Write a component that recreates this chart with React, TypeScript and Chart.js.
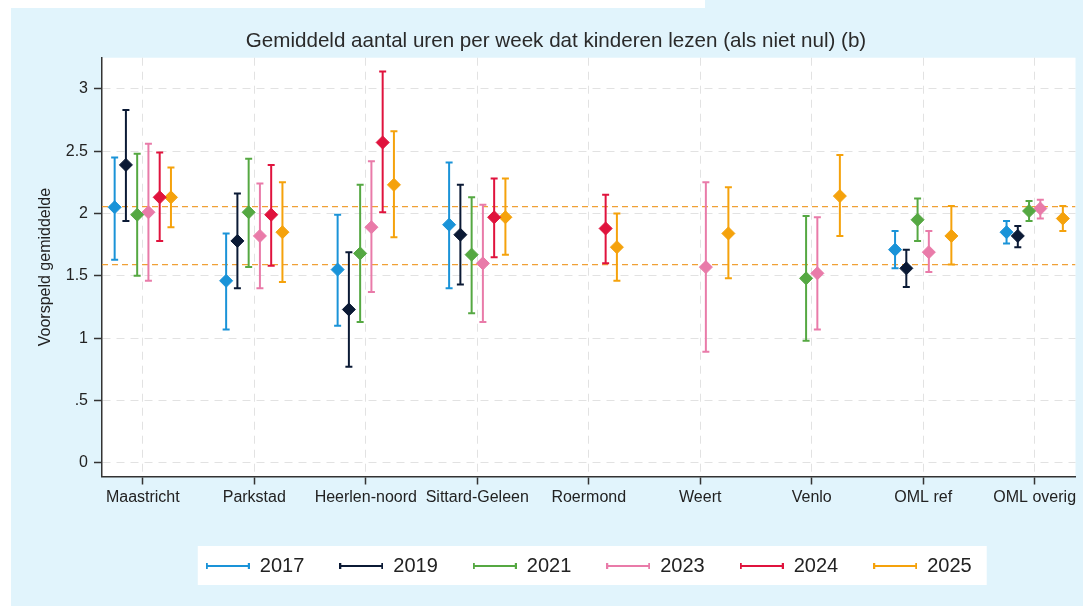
import React, { useEffect, useRef } from 'react';
import { Chart, registerables } from 'chart.js';

Chart.register(...registerables);

const categories = ['Maastricht', 'Parkstad', 'Heerlen-noord', 'Sittard-Geleen', 'Roermond', 'Weert', 'Venlo', 'OML ref', 'OML overig'];
const years = ['2017', '2019', '2021', '2023', '2024', '2025'];

const mean2017 = [2.05, 1.46, 1.55, 1.91, null, null, null, 1.71, 1.85];
const lo2017 = [1.63, 1.07, 1.10, 1.40, null, null, null, 1.56, 1.76];
const hi2017 = [2.45, 1.84, 1.99, 2.41, null, null, null, 1.86, 1.94];

const mean2019 = [2.39, 1.78, 1.23, 1.83, null, null, null, 1.56, 1.82];
const lo2019 = [1.94, 1.40, 0.77, 1.43, null, null, null, 1.41, 1.73];
const hi2019 = [2.83, 2.16, 1.69, 2.23, null, null, null, 1.71, 1.90];

const mean2021 = [1.99, 2.01, 1.68, 1.67, null, null, 1.48, 1.95, 2.02];
const lo2021 = [1.50, 1.57, 1.13, 1.20, null, null, 0.98, 1.78, 1.94];
const hi2021 = [2.48, 2.44, 2.23, 2.13, null, null, 1.98, 2.12, 2.10];

const mean2023 = [2.01, 1.82, 1.89, 1.60, null, 1.57, 1.52, 1.69, 2.04];
const lo2023 = [1.46, 1.40, 1.37, 1.13, null, 0.89, 1.07, 1.53, 1.96];
const hi2023 = [2.56, 2.24, 2.42, 2.07, null, 2.25, 1.97, 1.86, 2.11];

const mean2024 = [2.13, 1.99, 2.57, 1.97, 1.88, null, null, null, null];
const lo2024 = [1.78, 1.58, 2.01, 1.65, 1.60, null, null, null, null];
const hi2024 = [2.49, 2.39, 3.14, 2.28, 2.15, null, null, null, null];

const mean2025 = [2.13, 1.85, 2.23, 1.97, 1.73, 1.84, 2.14, 1.82, 1.96];
const lo2025 = [1.89, 1.45, 1.81, 1.67, 1.46, 1.48, 1.82, 1.59, 1.86];
const hi2025 = [2.37, 2.25, 2.66, 2.28, 2.00, 2.21, 2.47, 2.06, 2.06];

const refLines = [2.055, 1.59];
const yTicks = [0, 0.5, 1, 1.5, 2, 2.5, 3];
const yTickLabels = ['0', '.5', '1', '1.5', '2', '2.5', '3'];

const seriesMeans = [mean2017, mean2019, mean2021, mean2023, mean2024, mean2025];
const seriesLo = [lo2017, lo2019, lo2021, lo2023, lo2024, lo2025];
const seriesHi = [hi2017, hi2019, hi2021, hi2023, hi2024, hi2025];

const colors = ['#1a93d8', '#0b1a35', '#55a842', '#e97ba9', '#e0133d', '#f5a20c'];
const refColor = '#f0a035';
const bgBlue = '#e1f4fc';
const FONT = "'Liberation Sans', Arial, sans-serif";
const DODGE = 0.101;

const offsetFor = (k: number) => (k - (years.length - 1) / 2) * DODGE;

function makeIcon(color: string) {
  const c = document.createElement('canvas');
  c.width = 44;
  c.height = 10;
  const ctx = c.getContext('2d')!;
  ctx.strokeStyle = color;
  ctx.lineWidth = 2;
  ctx.beginPath();
  ctx.moveTo(1, 5);
  ctx.lineTo(43, 5);
  ctx.moveTo(1, 2);
  ctx.lineTo(1, 8);
  ctx.moveTo(43, 2);
  ctx.lineTo(43, 8);
  ctx.stroke();
  return c;
}

const backgroundPlugin = {
  id: 'bgPanels',
  beforeDraw(chart: any) {
    const { ctx, width, height, chartArea } = chart;
    ctx.save();
    ctx.fillStyle = '#ffffff';
    ctx.fillRect(0, 0, width, height);
    ctx.fillStyle = bgBlue;
    ctx.fillRect(11, 0, width - 11, height);
    ctx.fillStyle = '#ffffff';
    ctx.fillRect(0, 0, 705, 8);
    ctx.fillRect(chartArea.left, chartArea.top, chartArea.right - chartArea.left, chartArea.bottom - chartArea.top);
    const hb = chart.legend && chart.legend.legendHitBoxes;
    if (hb && hb.length) {
      const l = Math.min(...hb.map((b: any) => b.left)) - 8;
      const r = Math.max(...hb.map((b: any) => b.left + b.width)) + 15;
      const t = Math.min(...hb.map((b: any) => b.top)) - 10;
      const bt = Math.max(...hb.map((b: any) => b.top + b.height)) + 9;
      ctx.fillRect(l, t, r - l, bt - t);
    }
    ctx.restore();
  },
};

const errorBarPlugin = {
  id: 'errorBars',
  beforeDatasetsDraw(chart: any) {
    const { ctx, chartArea } = chart;
    const xs = chart.scales.x;
    const ys = chart.scales.y;
    ctx.save();
    ctx.beginPath();
    ctx.rect(chartArea.left, chartArea.top, chartArea.right - chartArea.left, chartArea.bottom - chartArea.top);
    ctx.clip();
    ctx.strokeStyle = refColor;
    ctx.lineWidth = 1.2;
    ctx.setLineDash([6, 4]);
    refLines.forEach((v) => {
      const py = ys.getPixelForValue(v);
      ctx.beginPath();
      ctx.moveTo(chartArea.left, py);
      ctx.lineTo(chartArea.right, py);
      ctx.stroke();
    });
    ctx.setLineDash([]);
    const cap = 3.5;
    seriesMeans.forEach((means, k) => {
      ctx.strokeStyle = colors[k];
      ctx.lineWidth = 2;
      means.forEach((m, i) => {
        if (m == null) return;
        const px = xs.getPixelForValue(i + offsetFor(k));
        const p1 = ys.getPixelForValue(seriesLo[k][i] as number);
        const p2 = ys.getPixelForValue(seriesHi[k][i] as number);
        ctx.beginPath();
        ctx.moveTo(px, p1);
        ctx.lineTo(px, p2);
        ctx.moveTo(px - cap, p1);
        ctx.lineTo(px + cap, p1);
        ctx.moveTo(px - cap, p2);
        ctx.lineTo(px + cap, p2);
        ctx.stroke();
      });
    });
    ctx.restore();
  },
};

export default function App() {
  const canvasRef = useRef<HTMLCanvasElement | null>(null);

  useEffect(() => {
    if (!canvasRef.current) return;
    Chart.defaults.font.family = FONT;
    const icons = colors.map((c) => makeIcon(c));

    const datasets = seriesMeans.map((means, k) => ({
      label: years[k],
      data: means
        .map((m, i) => (m == null ? null : { x: i + offsetFor(k), y: m }))
        .filter((p) => p !== null),
      pointStyle: 'rectRot',
      pointRadius: 6.5,
      pointBackgroundColor: colors[k],
      pointBorderColor: colors[k],
      pointBorderWidth: 1,
      showLine: false,
    }));

    const chart = new Chart(canvasRef.current, {
      type: 'scatter',
      data: { datasets: datasets as any },
      options: {
        responsive: false,
        maintainAspectRatio: false,
        animation: false,
        events: [],
        layout: { padding: { left: 32, right: 3, top: 0, bottom: 20 } },
        plugins: {
          tooltip: { enabled: false },
          title: {
            display: true,
            text: 'Gemiddeld aantal uren per week dat kinderen lezen (als niet nul) (b)',
            color: '#2a2a2a',
            font: { size: 20.6, weight: 'normal', family: FONT },
            padding: { top: 29, bottom: 4 },
          },
          legend: {
            display: true,
            position: 'bottom',
            fullSize: false,
            labels: {
              usePointStyle: true,
              pointStyleWidth: 44,
              font: { size: 20, family: FONT },
              color: '#222',
              padding: 35,
              generateLabels: () =>
                years.map((yr, k) => ({
                  text: yr,
                  pointStyle: icons[k] as any,
                  fillStyle: colors[k],
                  strokeStyle: colors[k],
                  lineWidth: 0,
                  hidden: false,
                  datasetIndex: k,
                  fontColor: '#222',
                })),
            },
          },
        },
        scales: {
          x: {
            type: 'linear',
            min: -0.366,
            max: 8.366,
            afterBuildTicks: (s: any) => {
              s.ticks = categories.map((_, i) => ({ value: i }));
            },
            afterFit: (s: any) => {
              s.height = 44.5;
            },
            ticks: {
              autoSkip: false,
              maxRotation: 0,
              minRotation: 0,
              padding: 3,
              color: '#222',
              font: { size: 16, family: FONT },
              callback: (v: any) => categories[Math.round(Number(v))] ?? '',
            },
            grid: {
              color: '#e2e2e2',
              lineWidth: 1,
              tickLength: 8,
              tickColor: '#333',
              tickWidth: 1.5,
            },
            border: { display: true, color: '#333', width: 1.5, dash: [8, 6] },
          },
          y: {
            type: 'linear',
            min: -0.11,
            max: 3.25,
            afterBuildTicks: (s: any) => {
              s.ticks = yTicks.map((v) => ({ value: v }));
            },
            afterFit: (s: any) => {
              s.width = 70;
            },
            ticks: {
              padding: 6,
              color: '#222',
              font: { size: 16, family: FONT },
              callback: (_v: any, i: number) => yTickLabels[i],
            },
            grid: {
              color: '#e2e2e2',
              lineWidth: 1,
              tickLength: 8,
              tickColor: '#333',
              tickWidth: 1.5,
            },
            border: { display: true, color: '#333', width: 1.5, dash: [8, 6] },
            title: {
              display: true,
              text: 'Voorspeld gemiddelde',
              color: '#222',
              font: { size: 16, family: FONT },
              padding: { top: 4, bottom: 0 },
            },
          },
        },
      },
      plugins: [backgroundPlugin, errorBarPlugin],
    });

    return () => chart.destroy();
  }, []);

  return (
    <div style={{ position: 'fixed', left: 0, top: 0, width: 1083, height: 606 }}>
      <canvas ref={canvasRef} width={1083} height={606} style={{ display: 'block', width: 1083, height: 606 }} />
    </div>
  );
}
